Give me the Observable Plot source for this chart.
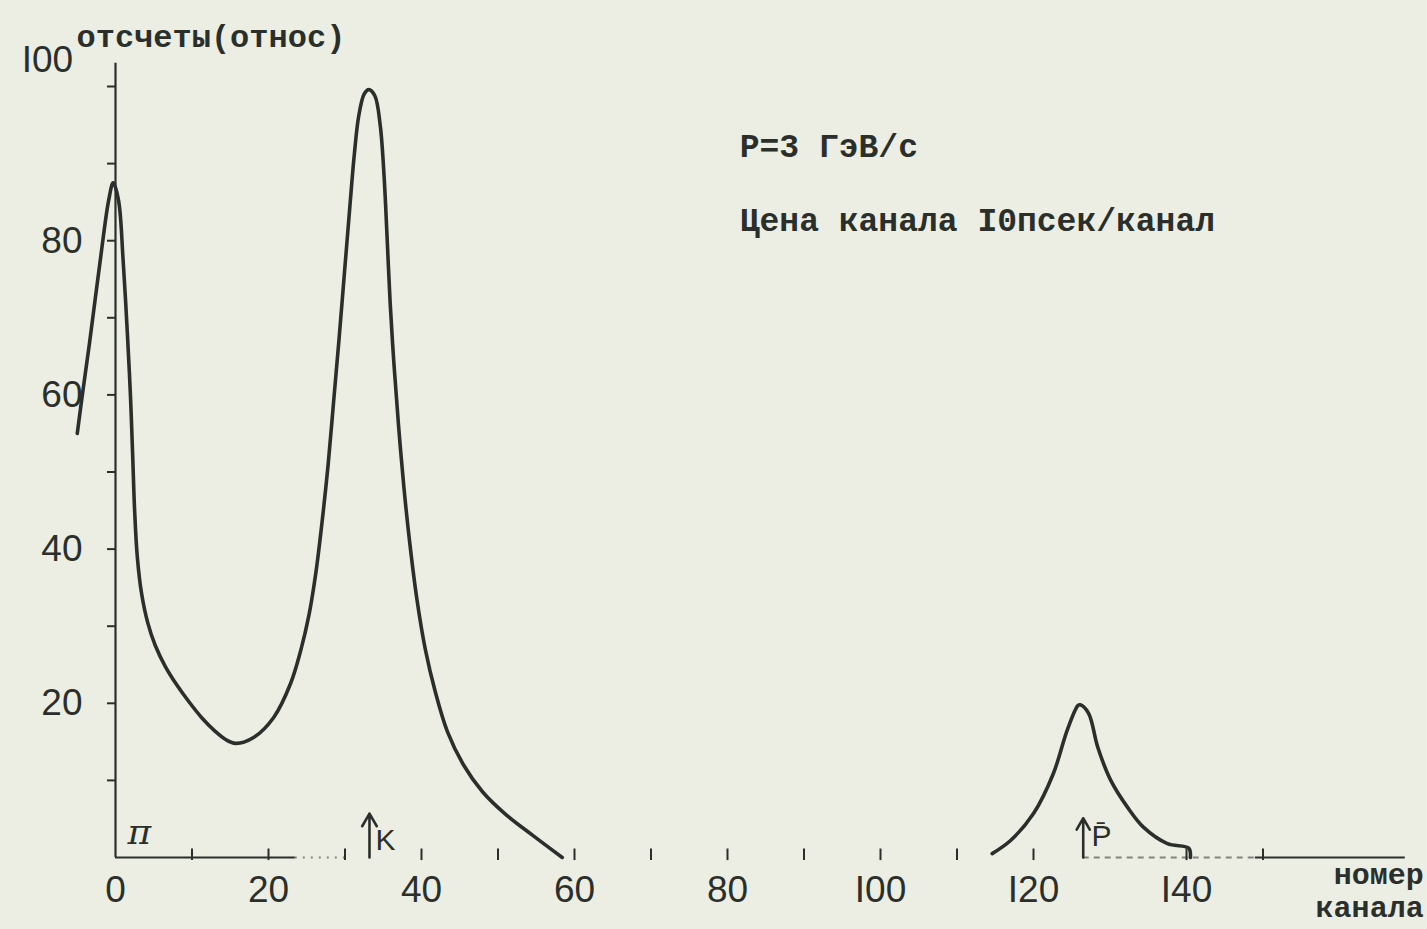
<!DOCTYPE html>
<html>
<head>
<meta charset="utf-8">
<script src="https://cdn.jsdelivr.net/npm/d3@7"></script>
<script src="https://cdn.jsdelivr.net/npm/@observablehq/plot@0.6"></script>
<style>
  html, body { margin: 0; padding: 0; background: #eceee4; }
  #chart svg { display: block; }
</style>
</head>
<body>
<div id="chart"></div>
<script>
// Curve 1: pion + kaon peaks (channel, relative counts)
const channelsA = [-5.0,-4.25,-3.4,-2.0,-0.9,-0.3,0.4,1.0,1.55,1.95,2.25,2.5,2.85,3.4,4.2,5.2,6.5,8.0,9.6,11.3,13.0,14.4,15.7,18.1,20.7,22.9,24.2,25.3,26.2,27.0,27.8,28.5,29.2,29.9,30.6,31.2,31.8,32.5,33.1,33.9,34.6,35.1,35.5,35.9,36.4,37.0,37.7,38.5,39.4,40.5,41.8,43.4,45.5,48.0,51.0,54.5,58.4];
const countsA   = [55.0,60.6,66.7,77.4,85.2,87.5,85.2,77.4,68.0,60.0,52.0,45.0,39.0,34.3,30.5,27.5,24.8,22.4,20.2,18.1,16.4,15.3,14.8,15.6,18.2,22.6,26.8,31.5,37.0,43.5,51.0,59.0,67.0,75.5,84.0,91.0,96.2,99.0,99.6,98.8,95.0,88.5,80.5,72.0,64.0,56.0,48.0,40.5,33.5,27.0,21.5,16.3,12.0,8.5,5.6,2.9,0];
// Curve 2: antiproton peak
const channelsB = [114.6,117.0,120.0,122.6,124.4,125.8,126.1,127.2,128.4,130.1,132.3,134.4,137.5,140.3,140.5];
const countsB   = [0.5,2.2,5.7,10.9,16.5,19.7,19.8,18.7,14.3,10.0,6.5,3.9,1.8,1.2,0];

// Axis ticks and labels
const xTicks = [0,20,40,60,80,100,120,140];
const xTickLabels = ["0","20","40","60","80","I00","I20","I40"];
const xMinorTicks = [10,20,30,40,50,60,70,80,90,100,110,120,140,150];
const yTicks = [10,20,30,40,50,60,70,80,90,100];
const yTickLabels = ["","20","","40","","60","","80","",""];
const yTopLabel = [{x: -8.9, y: 103.4, text: "I00"}];

// Axis line pieces (x from, x to, style)
const baseSegments = [
  {x1: 0, x2: 23.5, dash: null},
  {x1: 23.5, x2: 30, dash: "2,6"},
  {x1: 126.5, x2: 149, dash: "6,5"},
  {x1: 149, x2: 168.6, dash: null}
];

// Particle markers
const markers = [
  {x: 33.2, tip: 5.7, label: "K", lx: 35.3, ly: 2.2},
  {x: 126.5, tip: 5.1, label: "P\u0304", lx: 128.9, ly: 2.7}
];
const piLabel = [{x: 3.1, y: 3.2, text: "π"}];

// Text annotations
const yTitle = [{x: -5.1, y: 106.4, text: "отсчеты(относ)"}];
const notes = [
  {x: 81.6, y: 92.2, text: "P=3 ГэВ/с"},
  {x: 81.6, y: 82.6, text: "Цена канала I0псек/канал"}
];
const xTitle = [{x: 171.0, y: -4.15, text: "номер\nканала"}];

const ink = "#2b2f2b";
const mono = "'Liberation Mono', 'DejaVu Sans Mono', monospace";
const sans = "'Liberation Sans', Arial, sans-serif";

const lineA = channelsA.map((c, i) => ({x: c, y: countsA[i]}));
const lineB = channelsB.map((c, i) => ({x: c, y: countsB[i]}));

const chart = Plot.plot({
  width: 1427,
  height: 929,
  marginLeft: 115,
  marginRight: 241,
  marginTop: 86,
  marginBottom: 72,
  x: {domain: [0, 140], axis: null},
  y: {domain: [0, 100], axis: null},
  style: {background: "#eceee4", color: ink, overflow: "visible"},
  marks: [
    // y axis line
    Plot.ruleX([0], {y1: 0, y2: 103, stroke: ink, strokeWidth: 2.2}),
    // x axis baseline pieces
    ...baseSegments.map(s => Plot.ruleY([0], {x1: s.x1, x2: s.x2, stroke: ink, strokeWidth: 2.2, strokeOpacity: s.dash ? 0.55 : 1, strokeDasharray: s.dash})),
    // x minor tick marks
    Plot.ruleX(xMinorTicks, {y1: -0.4, y2: 1.1, stroke: ink, strokeWidth: 2}),
    // y tick marks and labels
    Plot.axisY(yTicks, {
      anchor: "left", tickSize: 8, tickPadding: 25, strokeWidth: 2,
      tickFormat: d => yTickLabels[yTicks.indexOf(d)],
      fontSize: 37, fontFamily: sans, fill: ink, label: null
    }),
    Plot.text(yTopLabel, {x: "x", y: "y", text: "text", fontSize: 37, fontFamily: sans, fill: ink}),
    // x tick labels
    Plot.axisX(xTicks, {
      anchor: "bottom", tickSize: 0, tickPadding: 18,
      tickFormat: d => xTickLabels[xTicks.indexOf(d)],
      fontSize: 37, fontFamily: sans, fill: ink, label: null
    }),
    // curves
    Plot.line(lineA, {x: "x", y: "y", curve: "catmull-rom", stroke: ink, strokeWidth: 3.6}),
    Plot.line(lineB, {x: "x", y: "y", curve: "catmull-rom", stroke: ink, strokeWidth: 3.6}),
    // particle arrows
    Plot.arrow(markers, {x1: "x", x2: "x", y1: 0, y2: "tip", stroke: ink, strokeWidth: 2.6, headLength: 10}),
    Plot.text(markers, {x: "lx", y: "ly", text: "label", fontSize: 30, fontFamily: sans, fill: ink}),
    Plot.text(piLabel, {x: "x", y: "y", text: "text", fontSize: 36, fontStyle: "italic", fontFamily: "'DejaVu Serif', serif", fill: ink}),
    // texts
    Plot.text(yTitle, {x: "x", y: "y", text: "text", textAnchor: "start", fontSize: 32, fontWeight: "bold", fontFamily: mono, fill: ink}),
    Plot.text(notes, {x: "x", y: "y", text: "text", textAnchor: "start", fontSize: 33, fontWeight: "bold", fontFamily: mono, fill: ink}),
    Plot.text(xTitle, {x: "x", y: "y", text: "text", textAnchor: "end", lineHeight: 1.1, fontSize: 30, fontWeight: "bold", fontFamily: mono, fill: ink})
  ]
});
document.getElementById("chart").appendChild(chart);
</script>
</body>
</html>
